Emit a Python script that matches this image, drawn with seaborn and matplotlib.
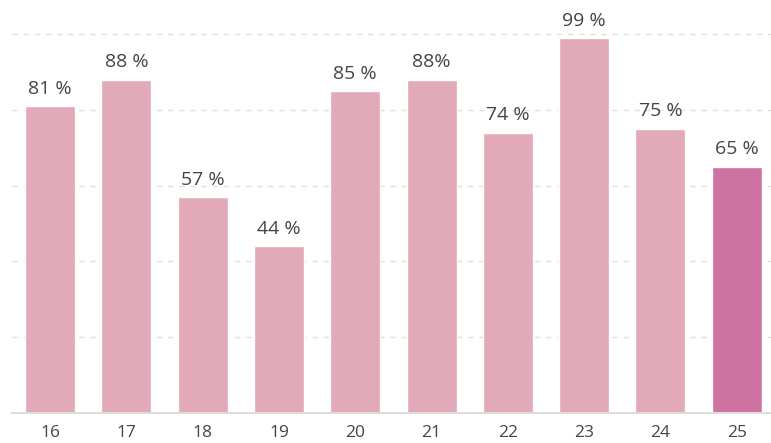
import matplotlib
matplotlib.use("Agg")
import matplotlib.pyplot as plt
import seaborn as sns
import pandas as pd

# Chart data
days = ["16", "17", "18", "19", "20", "21", "22", "23", "24", "25"]
values = [81, 88, 57, 44, 85, 88, 74, 99, 75, 65]
labels = ["81 %", "88 %", "57 %", "44 %", "85 %", "88%", "74 %", "99 %", "75 %", "65 %"]
highlight = [False] * 9 + [True]

df = pd.DataFrame({"day": days, "value": values, "hl": highlight})

sns.set_style("white")
plt.rcParams["font.family"] = ["Open Sans", "DejaVu Sans"]

fig = plt.figure(figsize=(7.71, 4.43), dpi=100)
ax = fig.add_axes([12 / 771, 30 / 443, 759 / 771, 413 / 443])

sns.barplot(data=df, x="day", y="value", hue="hl",
            palette={False: "#E2A9B8", True: "#CE72A2"},
            width=0.655, legend=False, ax=ax, saturation=1)

ax.set_xlim(-0.5, 9.45)
ax.set_ylim(0, 109)
ax.set_yticks([20, 40, 60, 80, 100])
ax.yaxis.grid(True, linestyle=(0, (4, 4)), color="#E0E0E0", linewidth=1)
ax.set_axisbelow(True)
ax.tick_params(axis="y", left=False, labelleft=False)
ax.tick_params(axis="x", bottom=False, labelsize=12.5, labelcolor="#444444", pad=5)
ax.set_xlabel("")
ax.set_ylabel("")
for side in ["top", "right", "left"]:
    ax.spines[side].set_visible(False)
ax.spines["bottom"].set_color("#DDDDDD")
ax.spines["bottom"].set_linewidth(1.5)

for i, (v, lab) in enumerate(zip(values, labels)):
    ax.annotate(lab, (i, v), xytext=(0, 6), textcoords="offset points",
                ha="center", va="bottom", fontsize=14, color="#444444")

fig.savefig("out.png", dpi=100)
